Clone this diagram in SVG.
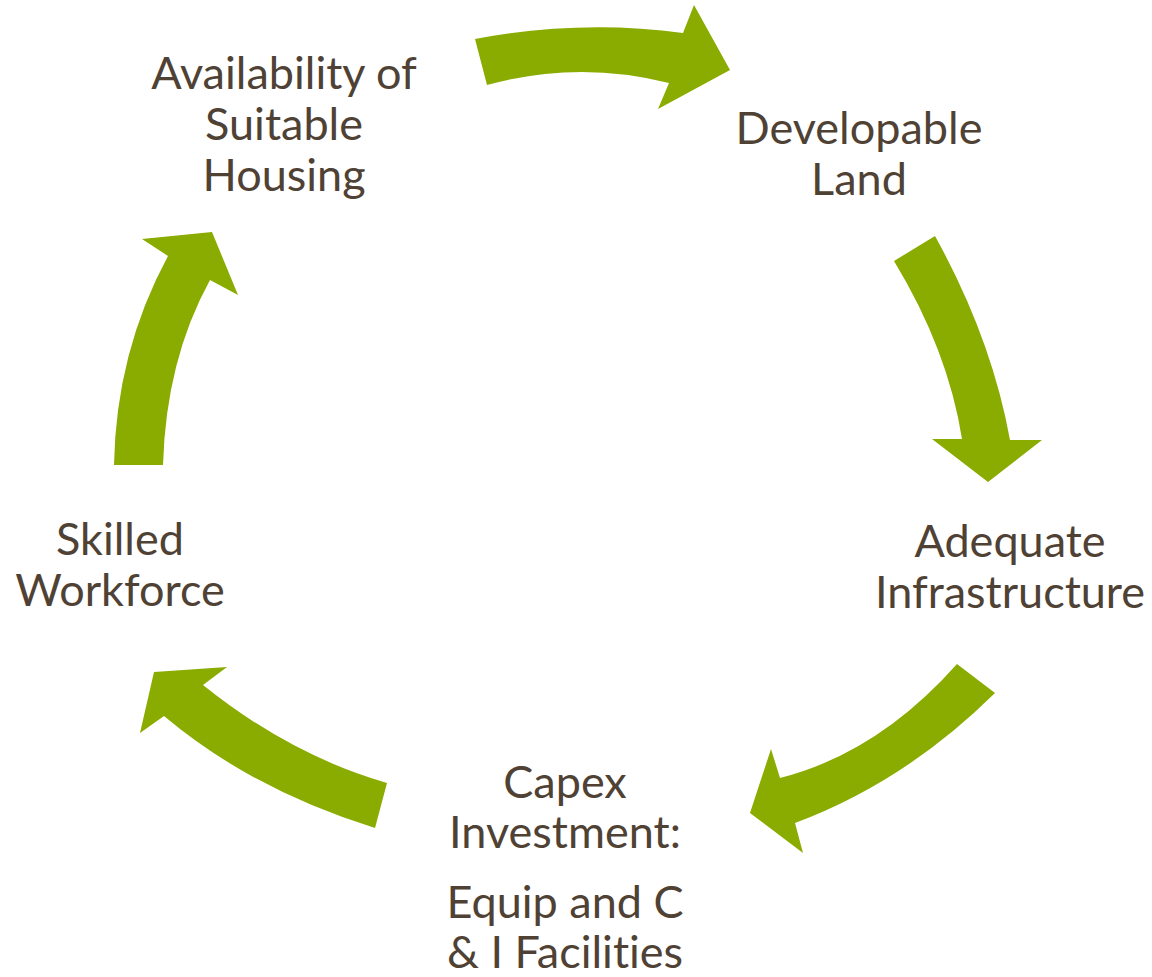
<svg xmlns="http://www.w3.org/2000/svg" width="1152" height="977" viewBox="0 0 1152 977">
<style>
.lbl{font-family:Lato,"Open Sans","Liberation Sans",sans-serif;font-size:45px;fill:#4f4235;text-anchor:middle;font-variant-ligatures:none}
.arr{fill:#8aab00;stroke:none}
</style>
<rect width="1152" height="977" fill="#ffffff"/>
<g id="connectors">
<path id="arrow-housing-land" class="arr" d="M475,39 Q581,19 683,33 L694,5 L730,70 L658,109 L669,83 Q578,60 487,85 Z"/>
<path id="arrow-land-infra" class="arr" d="M935,236 Q991.5,338 1010,440 L1042,440 L988,482 L932,439 L962,439 Q948,350 894,261 Z"/>
<path id="arrow-infra-capex" class="arr" d="M995,693 Q905,782 795,823 L803,853 L750,813 L771,749 L780,778 Q878,753 957,664 Z"/>
<path id="arrow-capex-workforce" class="arr" d="M375,828 Q252,790 164,716 L140,733 L154,672 L227,667 L203,685 Q290,755 387,783 Z"/>
<path id="arrow-workforce-housing" class="arr" d="M114,465 Q116,352 168,256 L142,239 L212,232 L238,295 L210,280 Q166,360 163,465 Z"/>
</g>
<g id="node-housing">
<text class="lbl" x="284" y="89">Availability of</text>
<text class="lbl" x="284" y="140">Suitable</text>
<text class="lbl" x="284" y="191">Housing</text>
</g>
<g id="node-land">
<text class="lbl" x="859" y="144">Developable</text>
<text class="lbl" x="859" y="195">Land</text>
</g>
<g id="node-infra">
<text class="lbl" x="1010" y="557">Adequate</text>
<text class="lbl" x="1010" y="608">Infrastructure</text>
</g>
<g id="node-capex">
<text class="lbl" x="565" y="798">Capex</text>
<text class="lbl" x="565" y="848">Investment:</text>
<text class="lbl" x="565" y="918">Equip and C</text>
<text class="lbl" x="565" y="968">&amp; I Facilities</text>
</g>
<g id="node-workforce">
<text class="lbl" x="120" y="555">Skilled</text>
<text class="lbl" x="120" y="606">Workforce</text>
</g>
</svg>
